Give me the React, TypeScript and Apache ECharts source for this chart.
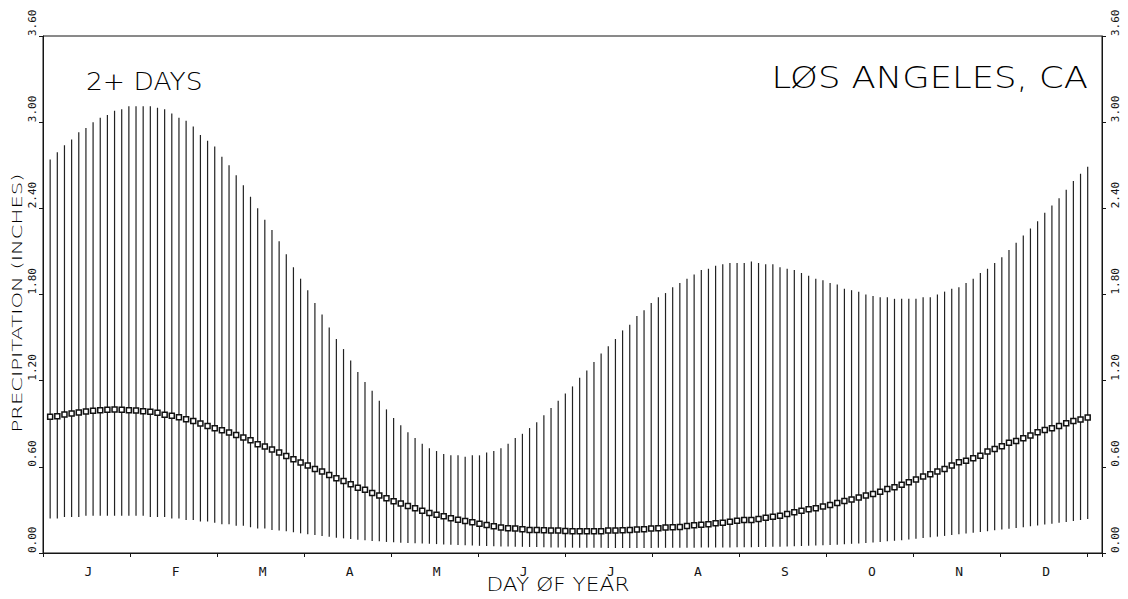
import React, { useEffect, useRef } from "react";
import * as echarts from "echarts";

// Day-of-year sampling: one bar every 2.5 days
const DAY_STEP = 2.5;
const N_BARS = 146;
const DAYS: number[] = Array.from({ length: N_BARS }, (_, k) => DAY_STEP * (k + 1));

const MONTHS = ["J", "F", "M", "A", "M", "J", "J", "A", "S", "O", "N", "D"];
const Y_TICKS = [0, 0.6, 1.2, 1.8, 2.4, 3.0, 3.6];

// Upper end of each bar (inches)
const HIGH = [
  2.74, 2.79, 2.84, 2.88, 2.93, 2.96, 3.0, 3.03, 3.05, 3.08,
  3.09, 3.11, 3.11, 3.11, 3.11, 3.1, 3.09, 3.06, 3.03, 3.01,
  2.97, 2.91, 2.87, 2.83, 2.76, 2.7, 2.63, 2.56, 2.48, 2.4,
  2.32, 2.25, 2.17, 2.08, 1.99, 1.91, 1.83, 1.74, 1.66, 1.57,
  1.49, 1.42, 1.34, 1.26, 1.19, 1.13, 1.06, 1.0, 0.94, 0.89,
  0.84, 0.8, 0.76, 0.73, 0.71, 0.69, 0.68, 0.68, 0.67, 0.68,
  0.68, 0.7, 0.71, 0.73, 0.76, 0.8, 0.83, 0.87, 0.91, 0.96,
  1.01, 1.06, 1.11, 1.16, 1.22, 1.27, 1.33, 1.39, 1.44, 1.49,
  1.55, 1.59, 1.65, 1.69, 1.74, 1.78, 1.81, 1.85, 1.88, 1.91,
  1.94, 1.97, 1.98, 2.0, 2.01, 2.02, 2.02, 2.02, 2.03, 2.02,
  2.01, 2.01, 1.99, 1.98, 1.97, 1.95, 1.93, 1.91, 1.9, 1.88,
  1.87, 1.84, 1.83, 1.82, 1.8, 1.79, 1.78, 1.78, 1.77, 1.77,
  1.77, 1.77, 1.78, 1.78, 1.8, 1.82, 1.84, 1.85, 1.88, 1.91,
  1.95, 1.98, 2.02, 2.06, 2.11, 2.16, 2.21, 2.26, 2.31, 2.37,
  2.42, 2.47, 2.53, 2.59, 2.64, 2.69,
];

// Lower end of each bar (inches)
const LOW = [
  0.24, 0.24, 0.25, 0.25, 0.25, 0.26, 0.26, 0.26, 0.26, 0.26,
  0.26, 0.26, 0.26, 0.26, 0.25, 0.25, 0.25, 0.24, 0.24, 0.23,
  0.23, 0.22, 0.22, 0.21, 0.2, 0.2, 0.19, 0.19, 0.18, 0.17,
  0.17, 0.16, 0.156, 0.151, 0.144, 0.137, 0.13, 0.125, 0.118, 0.114,
  0.107, 0.102, 0.098, 0.093, 0.088, 0.084, 0.081, 0.077, 0.074, 0.072,
  0.07, 0.068, 0.066, 0.064, 0.062, 0.06, 0.058, 0.056, 0.054, 0.052,
  0.05, 0.049, 0.047, 0.046, 0.045, 0.044, 0.043, 0.042, 0.041, 0.04,
  0.039, 0.038, 0.038, 0.037, 0.037, 0.036, 0.036, 0.036, 0.035, 0.035,
  0.035, 0.035, 0.035, 0.035, 0.035, 0.036, 0.036, 0.036, 0.037, 0.037,
  0.037, 0.038, 0.038, 0.038, 0.039, 0.039, 0.04, 0.04, 0.04, 0.041,
  0.042, 0.043, 0.044, 0.045, 0.047, 0.048, 0.05, 0.052, 0.054, 0.056,
  0.058, 0.061, 0.064, 0.067, 0.07, 0.073, 0.077, 0.081, 0.085, 0.089,
  0.094, 0.099, 0.104, 0.109, 0.114, 0.119, 0.125, 0.13, 0.136, 0.141,
  0.147, 0.152, 0.158, 0.163, 0.169, 0.174, 0.18, 0.186, 0.192, 0.198,
  0.204, 0.21, 0.216, 0.223, 0.23, 0.237,
];

// Mean value marked by the square on each bar (inches)
const MEAN = [
  0.948, 0.952, 0.964, 0.971, 0.978, 0.985, 0.99, 0.994, 0.997, 0.999,
  0.997, 0.994, 0.992, 0.987, 0.983, 0.976, 0.962, 0.955, 0.945, 0.931,
  0.92, 0.901, 0.885, 0.869, 0.855, 0.839, 0.822, 0.804, 0.785, 0.757,
  0.741, 0.72, 0.699, 0.676, 0.653, 0.63, 0.609, 0.585, 0.567, 0.544,
  0.52, 0.502, 0.479, 0.455, 0.441, 0.418, 0.4, 0.381, 0.36, 0.344,
  0.328, 0.312, 0.295, 0.279, 0.267, 0.256, 0.242, 0.232, 0.223, 0.214,
  0.204, 0.195, 0.186, 0.177, 0.172, 0.17, 0.165, 0.16, 0.16, 0.158,
  0.156, 0.156, 0.153, 0.151, 0.151, 0.151, 0.151, 0.151, 0.156, 0.156,
  0.158, 0.16, 0.163, 0.165, 0.17, 0.172, 0.177, 0.179, 0.181, 0.188,
  0.193, 0.197, 0.2, 0.207, 0.211, 0.218, 0.225, 0.23, 0.23, 0.237,
  0.246, 0.253, 0.26, 0.272, 0.283, 0.295, 0.304, 0.311, 0.323, 0.334,
  0.348, 0.362, 0.372, 0.386, 0.4, 0.411, 0.427, 0.446, 0.458, 0.476,
  0.492, 0.511, 0.532, 0.548, 0.567, 0.585, 0.609, 0.632, 0.643, 0.66,
  0.678, 0.706, 0.725, 0.743, 0.767, 0.78, 0.799, 0.818, 0.841, 0.857,
  0.869, 0.885, 0.904, 0.92, 0.929, 0.943,
];

const MONO = '"DejaVu Sans Mono", "Liberation Mono", monospace';
const THIN = '"DejaVu Sans", sans-serif';
const INK = "#151515";

export default function App() {
  const ref = useRef<HTMLDivElement>(null);

  useEffect(() => {
    if (!ref.current) return;
    const chart = echarts.init(ref.current, undefined, { renderer: "svg" });

    const rangeData = DAYS.map((d, i) => [d, LOW[i], HIGH[i]]);
    const meanData = DAYS.map((d, i) => [d, MEAN[i]]);
    const monthLen = 365 / 12;

    const yAxisCommon = {
      type: "value",
      min: Y_TICKS[0],
      max: Y_TICKS[Y_TICKS.length - 1],
      interval: 0.6,
      splitLine: { show: false },
      axisLine: { show: true, lineStyle: { color: INK, width: 1 } },
      axisTick: { show: true, length: 4, lineStyle: { color: INK } },
    };

    const titleStyle = (text: string, size: number, align: string) => ({
      text,
      fontFamily: THIN,
      fontWeight: 200,
      fontSize: size,
      fill: "#000",
      align,
      verticalAlign: "middle",
      textAlign: align,
      textVerticalAlign: "middle",
    });

    chart.setOption({
      animation: false,
      backgroundColor: "#ffffff",
      grid: {
        left: 43,
        right: 26,
        top: 36,
        bottom: 46,
        show: true,
        borderColor: INK,
        borderWidth: 1,
        backgroundColor: "transparent",
        containLabel: false,
        outerBoundsMode: "none",
      },
      xAxis: {
        type: "value",
        min: 0,
        max: 370,
        interval: monthLen,
        splitLine: { show: false },
        axisLine: { show: true, lineStyle: { color: INK, width: 1 } },
        axisTick: { show: true, length: 4, lineStyle: { color: INK } },
        axisLabel: {
          show: true,
          showMinLabel: true,
          showMaxLabel: true,
          formatter: (_v: number, idx: number) => (idx < 12 ? MONTHS[idx] : ""),
          padding: [0, 0, 0, 91],
          margin: 12,
          fontFamily: MONO,
          fontSize: 13,
          color: INK,
        },
      },
      yAxis: [
        {
          ...yAxisCommon,
          position: "left",
          axisLabel: {
            rotate: 90,
            align: "left",
            verticalAlign: "bottom",
            margin: 5,
            fontFamily: MONO,
            fontSize: 11,
            color: INK,
            showMinLabel: true,
            showMaxLabel: true,
            formatter: (v: number) => v.toFixed(2),
          },
        },
        {
          ...yAxisCommon,
          position: "right",
          axisLabel: {
            rotate: 90,
            align: "left",
            verticalAlign: "top",
            margin: 8,
            fontFamily: MONO,
            fontSize: 11,
            color: INK,
            showMinLabel: true,
            showMaxLabel: true,
            formatter: (v: number) => v.toFixed(2),
          },
        },
      ],
      series: [
        {
          type: "custom",
          name: "range",
          xAxisIndex: 0,
          yAxisIndex: 0,
          data: rangeData,
          encode: { x: 0, y: [1, 2] },
          renderItem: (_params: any, api: any) => {
            const x = api.value(0);
            const p1 = api.coord([x, api.value(1)]);
            const p2 = api.coord([x, api.value(2)]);
            return {
              type: "line",
              shape: { x1: p1[0], y1: p1[1], x2: p2[0], y2: p2[1] },
              style: { stroke: "#222222", lineWidth: 1.2 },
            };
          },
          z: 2,
        },
        {
          type: "scatter",
          name: "mean",
          xAxisIndex: 0,
          yAxisIndex: 0,
          data: meanData,
          symbol: "rect",
          symbolSize: 5,
          itemStyle: { color: "#ffffff", borderColor: "#111111", borderWidth: 1.5, opacity: 1 },
          z: 3,
        },
      ],
      graphic: [
        {
          type: "text",
          x: 86,
          y: 81,
          scaleX: 1.06,
          style: titleStyle("2+ DAYS", 25, "left"),
        },
        {
          type: "text",
          x: 1088,
          y: 78,
          scaleX: 1.18,
          style: titleStyle("LØS ANGELES, CA", 30, "right"),
        },
        {
          type: "text",
          x: 558,
          y: 584,
          scaleX: 1.085,
          style: titleStyle("DAY ØF YEAR", 20, "center"),
        },
        {
          type: "text",
          x: 17,
          y: 303,
          rotation: Math.PI / 2,
          scaleX: 1.51,
          style: titleStyle("PRECIPITATION (INCHES)", 14, "center"),
        },
      ],
    });

    return () => {
      chart.dispose();
    };
  }, []);

  return (
    <div
      ref={ref}
      style={{ position: "fixed", left: 0, top: 0, width: 1128, height: 599, background: "#fff" }}
    />
  );
}
